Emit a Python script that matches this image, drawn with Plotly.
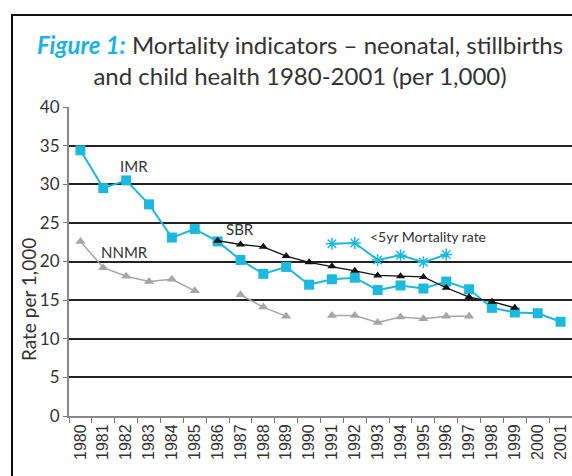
import plotly.graph_objects as go

years = [str(y) for y in range(1980, 2002)]
imr = [34.4, 29.5, 30.5, 27.4, 23.1, 24.2, 22.6, 20.2, 18.4, 19.3, 17.0, 17.7,
       17.9, 16.3, 16.9, 16.5, 17.4, 16.4, 14.0, 13.4, 13.3, 12.2]
sbr = [None, None, None, None, None, None, 22.7, 22.2, 21.9, 20.7, 19.9, 19.4,
       18.8, 18.2, 18.1, 18.0, 16.6, 15.4, 14.8, 14.0, None, None]
nnmr = [22.6, 19.2, 18.1, 17.4, 17.7, 16.2, None, 15.7, 14.1, 12.9, None, 13.0,
        13.0, 12.1, 12.8, 12.6, 12.9, 12.9, None, None, None, None]
u5mr = [None] * 11 + [22.3, 22.4, 20.2, 20.8, 19.9, 20.9] + [None] * 5
yticks = [0, 5, 10, 15, 20, 25, 30, 35, 40]

cyan = "#1cb8dd"
grey = "#a6a6a6"
txt = "#333333"
lato = "Lato, Open Sans, sans-serif"

fig = go.Figure()
fig.add_trace(go.Scatter(x=years, y=nnmr, mode="lines+markers", connectgaps=False,
                         line=dict(color=grey, width=1.5),
                         marker=dict(symbol="triangle-up", size=9, color=grey)))
fig.add_trace(go.Scatter(x=years, y=imr, mode="lines+markers",
                         line=dict(color=cyan, width=2),
                         marker=dict(symbol="square", size=10, color=cyan)))
fig.add_trace(go.Scatter(x=years, y=sbr, mode="lines+markers",
                         line=dict(color="#111111", width=1.3),
                         marker=dict(symbol="triangle-up", size=8, color="#111111")))
fig.add_trace(go.Scatter(x=years, y=u5mr, mode="lines+markers",
                         line=dict(color=cyan, width=2),
                         marker=dict(symbol="asterisk-open", size=10,
                                     line=dict(color=cyan, width=1.5))))

ann_font = dict(family=lato, size=15, color=txt)
fig.add_annotation(x=2, y=32.4, text="IMR", showarrow=False, font=ann_font,
                   xanchor="center", yanchor="middle", xshift=8)
fig.add_annotation(x=7, y=24.2, text="SBR", showarrow=False, font=ann_font,
                   xanchor="center", yanchor="middle")
fig.add_annotation(x=1, y=21.2, text="NNMR", showarrow=False, font=ann_font,
                   xanchor="left", yanchor="middle", xshift=-4)
fig.add_annotation(x=13, y=23.2, text="&lt;5yr Mortality rate", showarrow=False,
                   font=dict(family=lato, size=14, color=txt),
                   xanchor="left", yanchor="middle", xshift=-10)

# y-axis title (placed as in the reference, below the vertical centre)
fig.add_annotation(xref="paper", yref="paper", x=(28 - 69) / 503, y=(416 - 300) / 309,
                   text="Rate per 1,000", textangle=-90, showarrow=False,
                   xanchor="center", yanchor="middle",
                   font=dict(family=lato, size=19, color=txt))

fig.add_annotation(xref="paper", yref="paper", x=(300 - 69) / 503, y=(416 - 60) / 309,
                   text="<b><i><span style='color:#19b3e6'>Figure 1:</span></i></b> Mortality indicators – neonatal, stillbirths<br>and child health 1980-2001 (per 1,000)",
                   showarrow=False, xanchor="center", yanchor="middle", align="center",
                   font=dict(family=lato, size=24, color=txt))

fig.add_shape(type="rect", xref="paper", yref="paper", x0=(12 - 69) / 503, x1=1.03,
              y0=-0.25, y1=(416 - 15) / 309, line=dict(color="#111111", width=2),
              fillcolor="rgba(0,0,0,0)", layer="above")

fig.update_layout(
    width=572, height=476,
    margin=dict(l=69, r=0, t=107, b=60, autoexpand=False),
    paper_bgcolor="white", plot_bgcolor="white",
    showlegend=False,
    xaxis=dict(type="category", categoryorder="array", categoryarray=years,
               tickangle=-90, tickson="boundaries", ticks="outside", ticklen=5,
               tickcolor="#777777", showline=True, linecolor="#888888", linewidth=2,
               showgrid=False, range=[-0.5, 21.5], automargin=False,
               tickfont=dict(family="Liberation Sans, Arial", size=16, color=txt)),
    yaxis=dict(range=[0, 40], tickvals=yticks, ticks="outside", ticklen=4,
               tickcolor="#777777", showline=True, linecolor="#888888", linewidth=2,
               showgrid=True, gridcolor="#222222", gridwidth=2, zeroline=False,
               automargin=False, ticklabelstandoff=0,
               tickfont=dict(family=lato, size=17, color=txt)),
)

fig.write_html("out.html", config={"displayModeBar": False},
               post_script="document.body.style.margin='0';document.body.style.overflow='hidden';")
